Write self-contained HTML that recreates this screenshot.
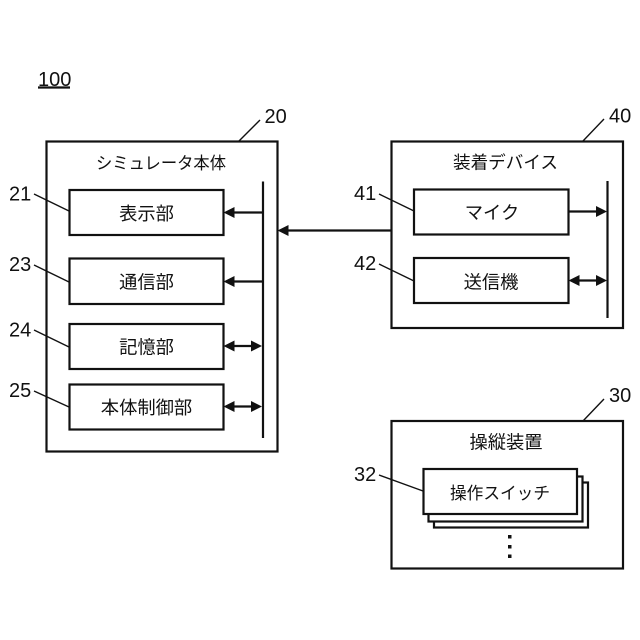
<!DOCTYPE html>
<html lang="ja">
<head>
<meta charset="utf-8">
<style>
html,body{margin:0;padding:0;background:#fff;width:640px;height:640px;overflow:hidden}
svg{display:block}
text{fill:#111;font-family:"Liberation Sans","Noto Sans CJK JP",sans-serif}
.n{font-size:20px}
.j{font-size:18.3px;text-anchor:middle;font-family:"Noto Sans CJK JP","Liberation Sans",sans-serif}
.b{fill:#fff;stroke:#111;stroke-width:2.2}
.l{stroke:#111;stroke-width:1.4;fill:none}
.w{stroke:#111;stroke-width:2.2;fill:none}
.a{fill:#111}
</style>
</head>
<body>
<svg width="640" height="640" viewBox="0 0 640 640" xmlns="http://www.w3.org/2000/svg">
<rect width="640" height="640" fill="#fff"/>

<text class="n" x="38" y="86">100</text>
<line x1="38" y1="87.5" x2="70" y2="87.5" class="w"/>

<!-- 20 -->
<rect class="b" x="46.5" y="141.5" width="231" height="310"/>
<text class="j" x="161" y="169" style="font-size:17px" textLength="130" lengthAdjust="spacingAndGlyphs">シミュレータ本体</text>
<rect class="b" x="69.5" y="190" width="154" height="45"/>
<rect class="b" x="69.5" y="258.5" width="154" height="45.5"/>
<rect class="b" x="69.5" y="324" width="154" height="45"/>
<rect class="b" x="69.5" y="384.5" width="154" height="45"/>
<text class="j" x="146.5" y="220">表示部</text>
<text class="j" x="146.5" y="288.5">通信部</text>
<text class="j" x="146.5" y="353.5">記憶部</text>
<text class="j" x="146.5" y="414">本体制御部</text>
<line class="w" x1="263" y1="181.5" x2="263" y2="438"/>

<line class="w" x1="232" y1="212.5" x2="263" y2="212.5"/>
<polygon class="a" points="223.5,212.5 234.5,207 234.5,218"/>
<line class="w" x1="232" y1="281.5" x2="263" y2="281.5"/>
<polygon class="a" points="223.5,281.5 234.5,276 234.5,287"/>
<line class="w" x1="232" y1="346" x2="254" y2="346"/>
<polygon class="a" points="223.5,346 234.5,340.5 234.5,351.5"/>
<polygon class="a" points="262,346 251,340.5 251,351.5"/>
<line class="w" x1="232" y1="406.5" x2="254" y2="406.5"/>
<polygon class="a" points="223.5,406.5 234.5,401 234.5,412"/>
<polygon class="a" points="262,406.5 251,401 251,412"/>

<!-- main arrow -->
<line class="w" x1="286" y1="230.5" x2="391" y2="230.5"/>
<polygon class="a" points="277.5,230.5 288.5,225 288.5,236"/>

<!-- 40 -->
<rect class="b" x="391.5" y="141.5" width="231.5" height="186.5"/>
<text class="j" x="505.5" y="168.5" style="font-size:17.6px">装着デバイス</text>
<rect class="b" x="414" y="189.5" width="154.5" height="45"/>
<rect class="b" x="414" y="258" width="154.5" height="45"/>
<text class="j" x="492" y="219">マイク</text>
<text class="j" x="491" y="288.5">送信機</text>
<line class="w" x1="607.5" y1="181" x2="607.5" y2="318"/>
<line class="w" x1="568" y1="211.5" x2="598" y2="211.5"/>
<polygon class="a" points="607,211.5 596,206 596,217"/>
<line class="w" x1="577" y1="280.5" x2="598" y2="280.5"/>
<polygon class="a" points="568.5,280.5 579.5,275 579.5,286"/>
<polygon class="a" points="607,280.5 596,275 596,286"/>

<!-- 30 -->
<rect class="b" x="391.5" y="421" width="231.5" height="147.5"/>
<text class="j" x="506" y="448.5">操縦装置</text>
<rect class="b" x="434" y="482.5" width="154" height="45"/>
<rect class="b" x="428.5" y="476.5" width="154" height="45"/>
<rect class="b" x="423.5" y="469" width="153.5" height="45"/>
<text class="j" x="500" y="499" style="font-size:17px" textLength="100" lengthAdjust="spacingAndGlyphs">操作スイッチ</text>
<rect class="a" x="508" y="535" width="3.5" height="3.5"/>
<rect class="a" x="508" y="545" width="3.5" height="3.5"/>
<rect class="a" x="508" y="554.5" width="3.5" height="3.5"/>

<!-- reference numbers -->
<text class="n" x="264.5" y="123">20</text>
<line class="l" x1="239" y1="141" x2="260" y2="120"/>
<text class="n" x="609" y="122.5">40</text>
<line class="l" x1="583" y1="141" x2="604" y2="119"/>
<text class="n" x="609" y="402">30</text>
<line class="l" x1="583" y1="421" x2="604" y2="399"/>

<text class="n" x="9" y="200.5">21</text>
<line class="l" x1="34" y1="194" x2="69" y2="211"/>
<text class="n" x="9" y="271">23</text>
<line class="l" x1="34" y1="265" x2="69" y2="282"/>
<text class="n" x="9" y="336.5">24</text>
<line class="l" x1="34" y1="330" x2="69" y2="347"/>
<text class="n" x="9" y="397">25</text>
<line class="l" x1="34" y1="391" x2="69" y2="407"/>

<text class="n" x="354" y="200">41</text>
<line class="l" x1="379" y1="194" x2="414" y2="211"/>
<text class="n" x="354" y="270">42</text>
<line class="l" x1="379" y1="264" x2="414" y2="281"/>
<text class="n" x="354" y="481">32</text>
<line class="l" x1="379" y1="475" x2="423" y2="491"/>
</svg>
</body>
</html>
